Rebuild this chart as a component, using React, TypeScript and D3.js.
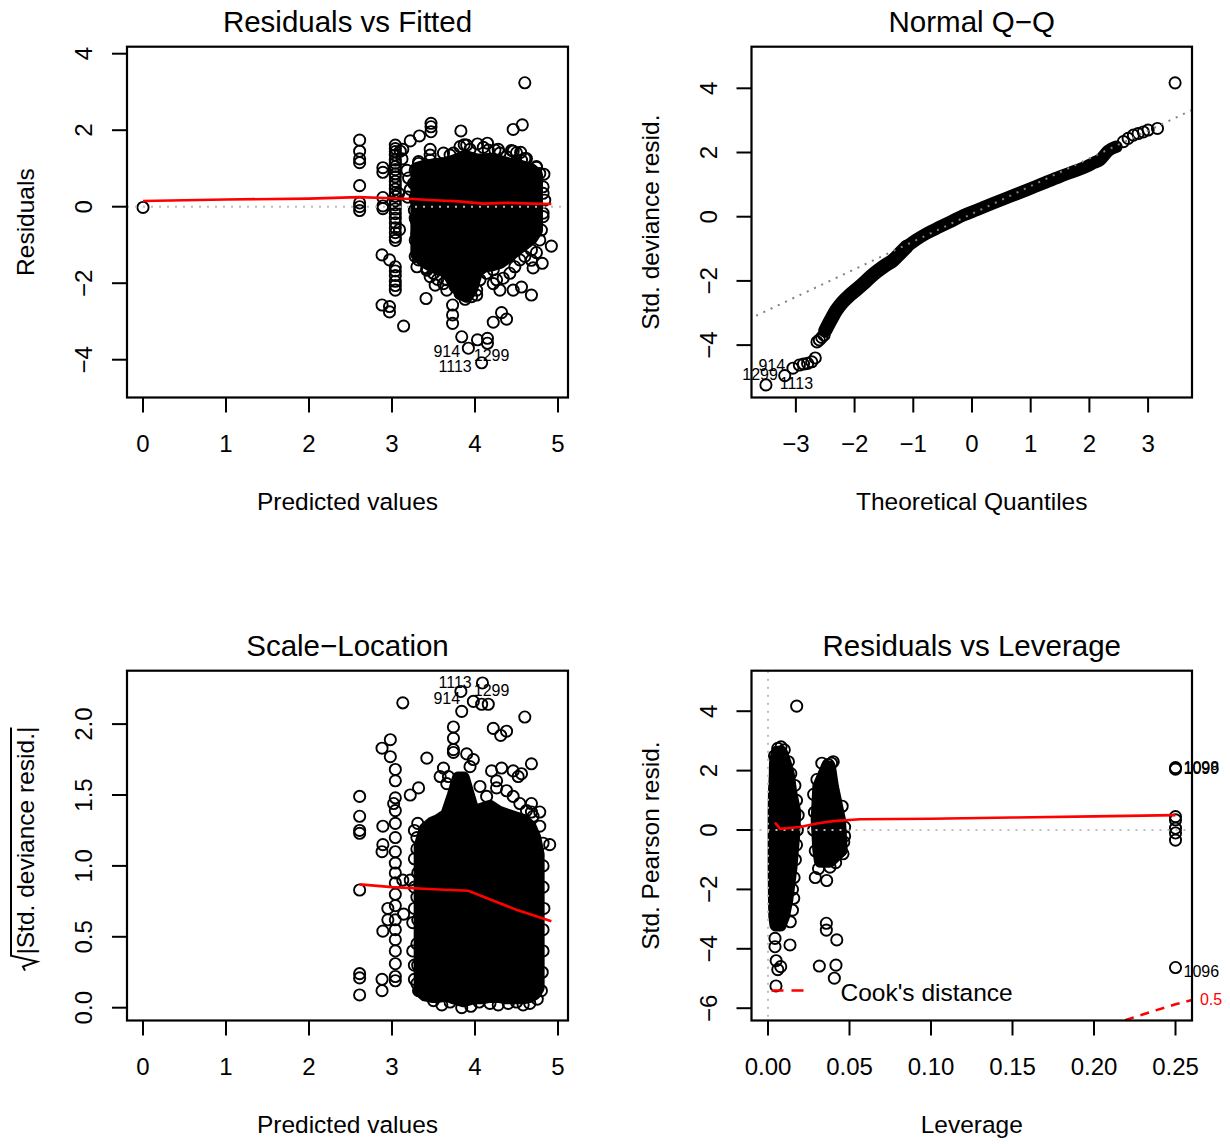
import React from 'react';
import { scaleLinear, line, area, curveMonotoneX, type ScaleLinear } from 'd3';

const FONT = '"Liberation Sans", Arial, Helvetica, sans-serif';

// ---------- Residuals vs Fitted ----------
const rvfPoints: [number, number][] = [
  [0.0, -0.02],
  [2.61, 1.74], [2.61, 1.45], [2.61, 1.25], [2.61, 1.15], [2.61, 0.55], [2.61, 0.1], [2.61, 0.0], [2.61, -0.1],
  [2.89, 1.02], [2.89, 0.9], [2.89, 0.24], [2.89, 0.02], [2.89, -0.05], [2.88, -1.26], [2.97, -1.39],
  [2.88, -2.57], [2.97, -2.61], [2.97, -2.75],
  [3.04, 1.61], [3.04, 1.52], [3.04, 1.44], [3.04, 1.35], [3.04, 1.22], [3.04, 1.14], [3.04, 1.05], [3.04, 0.97],
  [3.04, 0.86], [3.04, 0.78], [3.04, 0.66], [3.04, 0.57], [3.04, 0.46], [3.04, 0.36], [3.04, 0.27], [3.04, 0.15],
  [3.04, 0.05], [3.04, -0.06], [3.04, -0.18], [3.04, -0.3], [3.04, -0.42], [3.04, -0.55], [3.04, -0.68], [3.04, -0.8],
  [3.04, -0.88], [3.04, -1.57], [3.04, -1.68], [3.04, -1.8], [3.04, -1.95], [3.04, -2.06], [3.04, -2.18],
  [3.1, 1.45], [3.12, 1.25], [3.08, 0.35], [3.09, -0.6], [3.14, -3.12], [3.13, 1.5], [3.22, 1.72], [3.33, 1.85],
  [3.18, 0.95], [3.2, 0.75], [3.22, 0.45], [3.19, 0.25],
  [3.47, 2.18], [3.47, 2.09], [3.47, 1.96], [3.41, -2.4],
  [3.83, 1.98], [4.03, 1.64], [3.87, 1.62], [4.15, 1.66], [4.28, 1.5], [4.46, 1.45], [4.55, 1.42],
  [4.6, 3.24], [4.57, 2.14], [4.46, 2.02],
  [3.84, -3.4], [3.92, -3.7], [4.03, -3.48], [4.15, -3.44], [4.15, -3.57], [4.08, -4.08],
  [3.73, -2.57], [3.73, -2.83], [3.73, -3.05], [4.22, -3.02], [4.32, -2.77], [4.38, -2.94],
  [4.68, -2.31], [4.92, -1.03], [4.81, -1.48], [3.62, -2.01], [3.66, -2.18], [4.46, -2.18], [4.56, -2.1],
  [4.3, -2.18], [4.22, -2.01], [3.55, -1.9], [4.02, -2.31], [4.7, -1.6], [4.68, -1.4], [4.74, -1.2],
  [4.82, 0.35], [4.82, -0.17], [4.83, 0.85], [3.28, -0.87], [3.28, -1.3], [3.3, -1.57], [3.42, -1.66],
  [3.46, -1.83], [3.52, -2.05],
  [3.32, 1.18], [3.46, 1.5], [3.46, 1.35], [3.74, 1.4], [3.9, 1.61], [4.24, 1.48], [4.5, 1.41], [4.6, 1.26],
  [4.74, 1.05], [3.62, 1.4], [3.28, 0.6], [3.28, 0.2], [3.28, -0.3],
  // rim of the dense cloud
  [3.32, 1.13], [3.46, 1.22], [3.7, 1.35], [3.82, 1.57], [3.94, 1.5], [4.1, 1.55], [4.16, 1.48], [4.3, 1.4],
  [4.38, 1.31], [4.44, 1.47], [4.56, 1.22], [4.62, 1.26], [4.74, 1.03], [4.78, 0.87],
  [4.82, 0.52], [4.84, 0.17], [4.82, -0.26], [4.8, -0.61], [4.78, -0.87],
  [3.28, 0.96], [3.26, 0.61], [3.28, 0.26], [3.27, -0.09], [3.29, -0.35], [3.3, -0.7], [3.32, -1.04], [3.32, -1.39],
  [3.42, -1.61], [3.5, -1.74], [3.58, -1.65], [3.66, -1.91], [3.76, -2.09], [3.82, -2.27], [3.88, -2.42],
  [3.96, -2.35], [4.02, -2.18], [4.06, -1.91], [4.14, -1.74], [4.22, -1.65], [4.26, -1.91], [4.34, -1.87],
  [4.42, -1.74], [4.48, -1.57], [4.54, -1.39], [4.6, -1.3], [4.68, -1.13],
];
// envelope of the centres of the dense cloud
const rvfCloudX = [3.3, 3.38, 3.46, 3.54, 3.62, 3.7, 3.78, 3.84, 3.9, 3.96, 4.02, 4.1, 4.2, 4.3, 4.4, 4.5, 4.6, 4.68, 4.74];
const rvfCloudHigh = [1.0, 1.05, 1.08, 1.1, 1.12, 1.16, 1.22, 1.28, 1.3, 1.26, 1.22, 1.22, 1.24, 1.18, 1.12, 1.08, 1.02, 0.96, 0.85];
const rvfCloudLow = [-1.25, -1.42, -1.52, -1.56, -1.64, -1.82, -2.1, -2.28, -2.34, -2.14, -1.7, -1.56, -1.52, -1.46, -1.3, -1.12, -0.96, -0.82, -0.62];
const rvfSmooth: [number, number][] = [
  [0, 0.15], [1, 0.19], [2, 0.21], [2.6, 0.25], [3.0, 0.22], [3.25, 0.2], [3.5, 0.17], [3.8, 0.14],
  [4.1, 0.08], [4.4, 0.1], [4.7, 0.08], [4.92, 0.07],
];
const rvfIds = ['914', '1299', '1113'];
const rvfIdPos: [number, number][] = [[3.66, -3.79], [4.2, -3.88], [3.76, -4.19]];

// ---------- Normal Q-Q ----------
const qqTail: [number, number][] = [
  [-3.51, -5.24], [-3.19, -4.95], [-3.05, -4.72], [-2.94, -4.62], [-2.87, -4.59], [-2.8, -4.57], [-2.73, -4.52],
  [-2.67, -4.4], [-2.64, -3.9], [-2.6, -3.84], [-2.56, -3.76], [-2.52, -3.69],
  [2.58, 2.34], [2.66, 2.44], [2.75, 2.54], [2.83, 2.59], [2.92, 2.64], [3.0, 2.7], [3.16, 2.75], [3.46, 4.17],
];
const qqBandLow: [number, number][] = [
  [-2.5, -3.55], [-2.4, -3.2], [-2.31, -2.91], [-2.2, -2.65], [-2.08, -2.44], [-1.95, -2.24], [-1.85, -2.08],
  [-1.72, -1.86], [-1.62, -1.71], [-1.48, -1.52], [-1.34, -1.35], [-1.22, -1.13], [-1.11, -0.93],
];
const qqBandHigh: [number, number][] = [
  [-1.11, -0.93], [-0.95, -0.72], [-0.77, -0.52], [-0.55, -0.32], [-0.37, -0.16], [-0.15, 0.04], [0.08, 0.21],
  [0.36, 0.42], [0.65, 0.63], [0.93, 0.83], [1.2, 1.03], [1.5, 1.25], [1.75, 1.42], [1.95, 1.56], [2.08, 1.68],
  [2.18, 1.77], [2.32, 2.05], [2.46, 2.18],
];
const qqRef: [number, number][] = [[-3.8, -3.19], [3.8, 3.37]];
const qqIds = ['914', '1299', '1113'];
const qqIdPos: [number, number][] = [[-3.41, -4.62], [-3.61, -4.9], [-2.99, -5.19]];

// ---------- Scale-Location ----------
const slPoints: [number, number][] = [
  [4.09, 2.29], [3.83, 2.23], [3.98, 2.16], [4.08, 2.14], [4.16, 2.14], [3.84, 2.09], [3.13, 2.15], [4.6, 2.05],
  [4.22, 1.97], [4.31, 1.92], [4.38, 1.95], [3.74, 1.98], [3.74, 1.9], [3.74, 1.82], [3.74, 1.8],
  [2.98, 1.89], [2.88, 1.83], [2.98, 1.77], [3.04, 1.68], [3.04, 1.6], [3.04, 1.48], [3.02, 1.44], [3.04, 1.39],
  [3.04, 1.3], [3.04, 1.2], [3.04, 1.1], [3.04, 1.02], [3.04, 0.95], [3.04, 0.88], [3.04, 0.8], [3.04, 0.72],
  [3.04, 0.62], [3.04, 0.55], [3.04, 0.48], [3.04, 0.4], [3.04, 0.31], [3.04, 0.22], [3.04, 0.19],
  [3.32, 1.55], [3.22, 1.5], [3.42, 1.76], [3.62, 1.69], [3.68, 1.63], [3.9, 1.79], [3.98, 1.75], [4.2, 1.67],
  [4.32, 1.69], [4.26, 1.6], [4.46, 1.67], [4.52, 1.63], [4.56, 1.65], [4.68, 1.72], [4.68, 1.44], [4.68, 1.38],
  [4.78, 1.38], [4.9, 1.15],
  [2.61, 1.49], [2.61, 1.35], [2.61, 1.25], [2.61, 1.23], [2.61, 0.83], [2.61, 0.24], [2.61, 0.21], [2.61, 0.09],
  [2.88, 0.2], [2.88, 0.12], [2.89, 1.28], [2.89, 1.15], [2.88, 1.1], [2.89, 0.54], [2.95, 0.7], [2.95, 0.62],
  [3.13, 0.9], [3.14, 0.66], [3.22, 0.9], [3.3, 1.2], [3.3, 0.17], [3.32, 0.12], [3.25, 0.4], [3.25, 0.6],
  [3.27, 1.25], [3.27, 1.05], [3.27, 0.85], [3.27, 0.7], [3.27, 0.3], [3.27, 0.2],
  [3.84, 0.0], [4.18, 0.03], [4.58, 0.02], [3.5, 0.05], [4.4, 0.03],
  // rim of the dense cloud
  [3.58, 1.63], [3.66, 1.58], [3.94, 1.7], [4.06, 1.56], [4.14, 1.49], [4.26, 1.55], [4.38, 1.53], [4.46, 1.49],
  [4.54, 1.44], [4.62, 1.39], [4.7, 1.35], [4.78, 1.28], [4.82, 1.16],
  [4.82, 1.0], [4.82, 0.85], [4.83, 0.7], [4.82, 0.55], [4.82, 0.4], [4.81, 0.25], [4.8, 0.12],
  [3.31, 1.3], [3.3, 1.12], [3.31, 0.95], [3.3, 0.78], [3.31, 0.62], [3.3, 0.45], [3.31, 0.3],
  [3.6, 0.02], [3.7, 0.04], [3.95, 0.01], [4.05, 0.04], [4.28, 0.02], [4.5, 0.04], [4.66, 0.03], [4.75, 0.06],
];
const slCloudX = [3.34, 3.4, 3.48, 3.56, 3.66, 3.74, 3.8, 3.86, 3.92, 3.98, 4.08, 4.18, 4.28, 4.38, 4.48, 4.58, 4.66, 4.72, 4.76];
const slCloudHigh = [1.14, 1.26, 1.3, 1.32, 1.36, 1.5, 1.62, 1.62, 1.5, 1.38, 1.4, 1.42, 1.38, 1.36, 1.34, 1.32, 1.28, 1.2, 1.08];
const slCloudLow = [0.12, 0.09, 0.08, 0.08, 0.09, 0.07, 0.06, 0.05, 0.06, 0.07, 0.07, 0.08, 0.08, 0.07, 0.07, 0.07, 0.08, 0.1, 0.14];
const slSmooth: [number, number][] = [[2.61, 0.87], [3.0, 0.85], [3.5, 0.835], [3.92, 0.825], [4.2, 0.76], [4.5, 0.69], [4.92, 0.61]];
const slIds = ['1113', '914', '1299'];
const slIdPos: [number, number][] = [[3.76, 2.29], [3.66, 2.18], [4.2, 2.24]];

// ---------- Residuals vs Leverage ----------
const levPoints: [number, number][] = [
  [0.0176, 4.17], [0.0043, -3.65], [0.0043, -3.93], [0.0135, -3.87], [0.005, -4.4], [0.006, -4.7], [0.0078, -4.6],
  [0.0049, -5.25], [0.0158, -2.3], [0.0137, -3.09], [0.015, -2.7], [0.006, 2.75], [0.008, 2.8], [0.01, 2.7],
  [0.029, -1.6], [0.036, -1.7], [0.0358, -3.14], [0.0358, -3.37], [0.0422, -3.7], [0.0315, -4.58], [0.0417, -4.55],
  [0.0407, -4.99], [0.0445, -0.7], [0.047, 0.1], [0.0465, -0.4], [0.03, 1.7], [0.037, 2.2], [0.039, 2.25],
  [0.25, 2.05], [0.25, 2.1], [0.25, 0.45], [0.25, 0.34], [0.25, 0.06], [0.25, -0.1], [0.25, -0.34], [0.25, -4.63],
  // rim of the two dense columns
  [0.0165, 1.5], [0.0175, 1.0], [0.0185, 0.5], [0.018, 0.0], [0.0175, -0.5], [0.0168, -1.0], [0.016, -1.6],
  [0.015, -2.0], [0.004, 2.5], [0.0125, 2.3], [0.014, 1.9],
  [0.033, 2.25], [0.04, 2.3], [0.028, 1.2], [0.0285, 0.6], [0.028, 0.0], [0.029, -0.7], [0.0455, 0.8],
  [0.047, -0.2], [0.046, -0.8], [0.031, -1.3], [0.038, -1.25], [0.0415, -1.1],
];
const levMainY = [2.62, 2.25, 1.85, 1.3, 0.6, -0.25, -1.3, -2.35, -2.9, -3.2];
const levMainLo = [0.0057, 0.0046, 0.0045, 0.004, 0.0038, 0.0038, 0.0038, 0.004, 0.0042, 0.0049];
const levMainHi = [0.0081, 0.0105, 0.0125, 0.0138, 0.0164, 0.0156, 0.014, 0.0115, 0.0095, 0.0075];
const levSecondY = [2.12, 1.46, 0.34, -0.67, -1.05];
const levSecondLo = [0.0363, 0.0312, 0.0302, 0.0312, 0.0322];
const levSecondHi = [0.0377, 0.0395, 0.0438, 0.0449, 0.0377];
const levSmooth: [number, number][] = [
  [0.0043, 0.25], [0.0074, 0.04], [0.0196, 0.1], [0.0299, 0.22], [0.04, 0.3], [0.0564, 0.36], [0.1, 0.38],
  [0.15, 0.42], [0.2, 0.46], [0.25, 0.5],
];
const cookHalf: [number, number][] = [[0.21, -6.6], [0.217, -6.44], [0.235, -6.12], [0.25, -5.87], [0.2601, -5.72]];
const levIds = ['1098', '1099', '1096'];
const levIdPos: [number, number][] = [[0.25, 2.12], [0.25, 2.08], [0.25, -4.77]];

type Scale = ScaleLinear<number, number>;
interface Box { left: number; right: number; top: number; bottom: number }

const R = 5.6;
const PT_W = 1.9;
const CLOUD_W = 2 * R + PT_W;
const minus = (v: number, digits = 0) => (v < 0 ? '\u2212' : '') + Math.abs(v).toFixed(digits);

function Circles({ pts, x, y }: { pts: [number, number][]; x: Scale; y: Scale }) {
  return (
    <g fill="none" stroke="#000" strokeWidth={PT_W}>
      {pts.map((d, i) => <circle key={i} cx={x(d[0])} cy={y(d[1])} r={R} />)}
    </g>
  );
}

function Labels({ ids, pos, x, y, dx = 0, anchor = 'middle', color = '#000' }: {
  ids: string[]; pos: [number, number][]; x: Scale; y: Scale; dx?: number; anchor?: string; color?: string;
}) {
  return (
    <g fontSize={16} fill={color}>
      {ids.map((t, i) => (
        <text key={i} x={x(pos[i][0]) + dx} y={y(pos[i][1])} textAnchor={anchor} dominantBaseline="central">{t}</text>
      ))}
    </g>
  );
}

interface PanelProps {
  id: string;
  box: Box;
  xDomain: [number, number];
  yDomain: [number, number];
  xTicks: number[];
  yTicks: number[];
  xDigits: number;
  yDigits: number;
  title: string;
  xTitle: string;
  yTitle: string;
  sqrtTitle?: boolean;
  inner: (x: Scale, y: Scale) => React.ReactNode;
  outer?: (x: Scale, y: Scale) => React.ReactNode;
}

function Panel(p: PanelProps) {
  const { box } = p;
  const x = scaleLinear().domain(p.xDomain).range([box.left, box.right]);
  const y = scaleLinear().domain(p.yDomain).range([box.bottom, box.top]);
  const cx = (box.left + box.right) / 2;
  const cy = (box.top + box.bottom) / 2;
  const textW = 226;
  return (
    <g>
      <defs>
        <clipPath id={p.id}>
          <rect x={box.left} y={box.top} width={box.right - box.left} height={box.bottom - box.top} />
        </clipPath>
      </defs>
      <g clipPath={`url(#${p.id})`}>{p.inner(x, y)}</g>
      {p.outer && p.outer(x, y)}
      <rect x={box.left} y={box.top} width={box.right - box.left} height={box.bottom - box.top}
        fill="none" stroke="#000" strokeWidth={2.2} />
      {p.xTicks.map((t) => (
        <g key={t}>
          <line x1={x(t)} x2={x(t)} y1={box.bottom} y2={box.bottom + 15} stroke="#000" strokeWidth={2} />
          <text x={x(t)} y={box.bottom + 54} textAnchor="middle" fontSize={24}>{minus(t, p.xDigits)}</text>
        </g>
      ))}
      {p.yTicks.map((t) => (
        <g key={t}>
          <line x1={box.left - 15} x2={box.left} y1={y(t)} y2={y(t)} stroke="#000" strokeWidth={2} />
          <text transform={`translate(${box.left - 35},${y(t)}) rotate(-90)`} textAnchor="middle" fontSize={24}>
            {minus(t, p.yDigits)}
          </text>
        </g>
      ))}
      <text x={cx} y={box.top - 15} textAnchor="middle" fontSize={29.5}>{p.title}</text>
      <text x={cx} y={box.bottom + 112} textAnchor="middle" fontSize={24.5}>{p.xTitle}</text>
      {p.sqrtTitle ? (
        <g transform={`translate(${box.left - 93},${cy - 4}) rotate(-90)`}>
          <text x={-textW / 2} y={0} fontSize={24.5}>{p.yTitle}</text>
          <path d={`M${-textW / 2 - 16},-9 L${-textW / 2 - 12},-11 L${-textW / 2 - 7},3 L${-textW / 2 - 1},-23 L${textW / 2 + 1},-23`}
            fill="none" stroke="#000" strokeWidth={2} />
        </g>
      ) : (
        <text transform={`translate(${box.left - 93},${cy}) rotate(-90)`} textAnchor="middle" fontSize={24.5}>{p.yTitle}</text>
      )}
    </g>
  );
}

function cloudPath(xs: number[], lo: number[], hi: number[], x: Scale, y: Scale) {
  const gen = area<number>()
    .x((i) => x(xs[i]))
    .y0((i) => y(lo[i]))
    .y1((i) => y(hi[i]));
  return gen(xs.map((_, i) => i)) || '';
}

function columnPath(ys: number[], lo: number[], hi: number[], x: Scale, y: Scale) {
  const pts: [number, number][] = [
    ...ys.map((v, i) => [x(lo[i]), y(v)] as [number, number]),
    ...ys.map((v, i) => [x(hi[i]), y(v)] as [number, number]).reverse(),
  ];
  return (line()(pts) || '') + 'Z';
}

const path = (x: Scale, y: Scale) => line<[number, number]>().x((d) => x(d[0])).y((d) => y(d[1]));

export default function App() {
  const top1: Box = { left: 127, right: 568, top: 46.7, bottom: 397.5 };
  const top2: Box = { left: 751.5, right: 1192, top: 46.7, bottom: 397.5 };
  const bot1: Box = { left: 127, right: 568, top: 670.7, bottom: 1020.5 };
  const bot2: Box = { left: 751.5, right: 1192, top: 670.7, bottom: 1020.5 };
  const grey = '#bebebe';
  return (
    <svg width={1230} height={1144} style={{ position: 'absolute', left: 0, top: 0 }} fontFamily={FONT}>
      <rect width={1230} height={1144} fill="#fff" />

      <Panel id="p1" box={top1} xDomain={[-0.1928, 5.1205]} yDomain={[-4.988, 4.183]}
        xTicks={[0, 1, 2, 3, 4, 5]} yTicks={[-4, -2, 0, 2, 4]} xDigits={0} yDigits={0}
        title="Residuals vs Fitted" xTitle="Predicted values" yTitle="Residuals"
        inner={(x, y) => (
          <g>
            <path d={cloudPath(rvfCloudX, rvfCloudLow, rvfCloudHigh, x, y)} fill="#000" stroke="#000"
              strokeWidth={CLOUD_W} strokeLinejoin="round" />
            <Circles pts={rvfPoints} x={x} y={y} />
            <line x1={top1.left} x2={top1.right} y1={y(0)} y2={y(0)} stroke={grey} strokeWidth={2} strokeDasharray="2 6" />
            <path d={path(x, y)(rvfSmooth) || ''} fill="none" stroke="#ff0000" strokeWidth={2.6} />
          </g>
        )}
        outer={(x, y) => <Labels ids={rvfIds} pos={rvfIdPos} x={x} y={y} />}
      />

      <Panel id="p2" box={top2} xDomain={[-3.756, 3.748]} yDomain={[-5.632, 5.296]}
        xTicks={[-3, -2, -1, 0, 1, 2, 3]} yTicks={[-4, -2, 0, 2, 4]} xDigits={0} yDigits={0}
        title={'Normal Q\u2212Q'} xTitle="Theoretical Quantiles" yTitle="Std. deviance resid."
        inner={(x, y) => (
          <g>
            <path d={path(x, y).curve(curveMonotoneX)(qqBandLow) || ''} fill="none" stroke="#000" strokeWidth={14}
              strokeLinecap="round" strokeLinejoin="round" />
            <path d={path(x, y).curve(curveMonotoneX)(qqBandHigh) || ''} fill="none" stroke="#000" strokeWidth={12.5}
              strokeLinecap="round" strokeLinejoin="round" />
            <Circles pts={qqTail} x={x} y={y} />
            <path d={path(x, y)(qqRef) || ''} fill="none" stroke="#808080" strokeWidth={2} strokeDasharray="2 6" />
          </g>
        )}
        outer={(x, y) => <Labels ids={qqIds} pos={qqIdPos} x={x} y={y} />}
      />

      <Panel id="p3" box={bot1} xDomain={[-0.1928, 5.1205]} yDomain={[-0.0903, 2.3766]}
        xTicks={[0, 1, 2, 3, 4, 5]} yTicks={[0, 0.5, 1, 1.5, 2]} xDigits={0} yDigits={1}
        title={'Scale\u2212Location'} xTitle="Predicted values" yTitle="|Std. deviance resid.|" sqrtTitle
        inner={(x, y) => (
          <g>
            <path d={cloudPath(slCloudX, slCloudLow, slCloudHigh, x, y)} fill="#000" stroke="#000"
              strokeWidth={CLOUD_W} strokeLinejoin="round" />
            <Circles pts={slPoints} x={x} y={y} />
            <path d={path(x, y)(slSmooth) || ''} fill="none" stroke="#ff0000" strokeWidth={2.6} />
          </g>
        )}
        outer={(x, y) => <Labels ids={slIds} pos={slIdPos} x={x} y={y} />}
      />

      <Panel id="p4" box={bot2} xDomain={[-0.01012, 0.26012]} yDomain={[-6.414, 5.364]}
        xTicks={[0, 0.05, 0.1, 0.15, 0.2, 0.25]} yTicks={[-6, -4, -2, 0, 2, 4]} xDigits={2} yDigits={0}
        title="Residuals vs Leverage" xTitle="Leverage" yTitle="Std. Pearson resid."
        inner={(x, y) => (
          <g>
            <path d={columnPath(levMainY, levMainLo, levMainHi, x, y)} fill="#000" stroke="#000"
              strokeWidth={CLOUD_W} strokeLinejoin="round" />
            <path d={columnPath(levSecondY, levSecondLo, levSecondHi, x, y)} fill="#000" stroke="#000"
              strokeWidth={CLOUD_W} strokeLinejoin="round" />
            <Circles pts={levPoints} x={x} y={y} />
            <line x1={bot2.left} x2={bot2.right} y1={y(0)} y2={y(0)} stroke={grey} strokeWidth={2} strokeDasharray="2 6" />
            <line x1={x(0)} x2={x(0)} y1={bot2.top} y2={bot2.bottom} stroke={grey} strokeWidth={2} strokeDasharray="2 6" />
            <path d={path(x, y)(levSmooth) || ''} fill="none" stroke="#ff0000" strokeWidth={2.6} />
            <path d={path(x, y)(cookHalf) || ''} fill="none" stroke="#ff0000" strokeWidth={2.6} strokeDasharray="9 7" />
            <line x1={bot2.left + 20} x2={bot2.left + 59} y1={bot2.bottom - 30} y2={bot2.bottom - 30}
              stroke="#ff0000" strokeWidth={2.6} strokeDasharray="12 8" />
            <text x={bot2.left + 89} y={bot2.bottom - 20} fontSize={24.5}>Cook's distance</text>
          </g>
        )}
        outer={(x, y) => (
          <g>
            <Labels ids={levIds} pos={levIdPos} x={x} y={y} dx={8} anchor="start" />
            <text x={x(cookHalf[cookHalf.length - 1][0]) + 8} y={y(cookHalf[cookHalf.length - 1][1])}
              fontSize={16} fill="#ff0000" dominantBaseline="central">0.5</text>
          </g>
        )}
      />
    </svg>
  );
}
